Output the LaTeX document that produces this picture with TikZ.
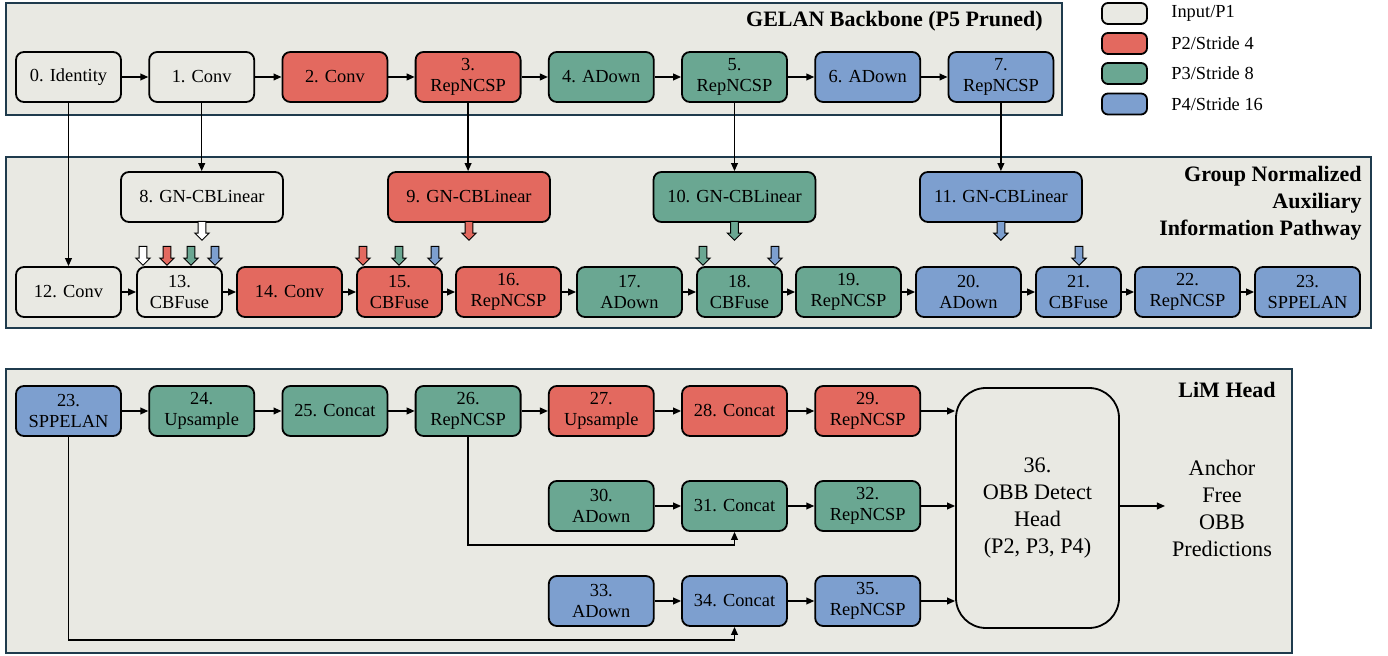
\documentclass[tikz,border=0pt]{standalone}
\usepackage{fontspec}
\setmainfont{Liberation Serif}
\usetikzlibrary{arrows.meta,shapes.arrows}
\definecolor{panelbg}{HTML}{E9E9E3}
\definecolor{panelline}{HTML}{1F3B4D}
\definecolor{pone}{HTML}{E9E9E3}
\definecolor{ptwo}{HTML}{E3695F}
\definecolor{pthree}{HTML}{6AA792}
\definecolor{pfour}{HTML}{7D9FCF}

\begin{document}
\begin{tikzpicture}[x=0.5pt,y=-0.5pt,
  panel/.style={draw=panelline,fill=panelbg,line width=1pt},
  blk/.style={draw,line width=0.9pt,rounded corners=4pt,minimum width=52.5pt,minimum height=25pt,inner sep=1pt,align=center,font=\fontsize{9.2}{10.5}\selectfont},
  wideblk/.style={blk,minimum width=81pt},
  thinblk/.style={blk,minimum width=42.5pt},
  con/.style={-{Triangle[length=4pt,width=3.4pt]},line width=0.7pt},
  fuse/.style={draw,line width=0.5pt,shape=single arrow,shape border rotate=270,minimum height=9.5pt,inner sep=1.7pt,single arrow head extend=1.6pt,anchor=tip},
  ttl/.style={font=\fontsize{11}{13.5}\selectfont\bfseries,align=right,anchor=east,inner sep=0pt},
  big/.style={font=\fontsize{11.1}{13.5}\selectfont,align=center},
  leg/.style={draw,line width=0.9pt,rounded corners=3pt,minimum width=22.5pt,minimum height=10.5pt,inner sep=0pt},
  legtxt/.style={anchor=west,inner sep=0pt,font=\fontsize{9.2}{10.5}\selectfont}]
\useasboundingbox (0,0) rectangle (1388,656);
\draw[panel] (6,3) rectangle (1062,115);
\draw[panel] (6,157) rectangle (1371,328);
\draw[panel] (6,369) rectangle (1292,653);
\node[ttl] (tback) at (1043,21) {GELAN Backbone (P5 Pruned)};
\node[ttl] (taux) at (1362,203) {Group Normalized\\Auxiliary\\Information Pathway};
\node[ttl] (thead) at (1276,390) {LiM Head};
\node[leg,fill=pone] (l1) at (1124.5,13.5) {};
\node[legtxt] at (1171,13.5) {Input/P1};
\node[leg,fill=ptwo] (l2) at (1124.5,43.5) {};
\node[legtxt] at (1171,43.5) {P2/Stride 4};
\node[leg,fill=pthree] (l3) at (1124.5,73.5) {};
\node[legtxt] at (1171,73.5) {P3/Stride 8};
\node[leg,fill=pfour] (l4) at (1124.5,104) {};
\node[legtxt] at (1171,104) {P4/Stride 16};
\node[blk,fill=pone] (b0) at (68.5,77) {0. Identity};
\node[blk,fill=pone] (b1) at (201.7,77) {1. Conv};
\node[blk,fill=ptwo] (b2) at (334.9,77) {2. Conv};
\node[blk,fill=ptwo] (b3) at (468.1,77) {3.\\RepNCSP};
\node[blk,fill=pthree] (b4) at (601.3,77) {4. ADown};
\node[blk,fill=pthree] (b5) at (734.5,77) {5.\\RepNCSP};
\node[blk,fill=pfour] (b6) at (867.7,77) {6. ADown};
\node[blk,fill=pfour] (b7) at (1000.9,77) {7.\\RepNCSP};
\draw[con] (b0) -- (b1);
\draw[con] (b1) -- (b2);
\draw[con] (b2) -- (b3);
\draw[con] (b3) -- (b4);
\draw[con] (b4) -- (b5);
\draw[con] (b5) -- (b6);
\draw[con] (b6) -- (b7);
\node[wideblk,fill=pone] (g8) at (202,197) {8. GN-CBLinear};
\node[wideblk,fill=ptwo] (g9) at (469,197) {9. GN-CBLinear};
\node[wideblk,fill=pthree] (g10) at (734.5,197) {10. GN-CBLinear};
\node[wideblk,fill=pfour] (g11) at (1000.9,197) {11. GN-CBLinear};
\node[blk,fill=pone] (a12) at (68.5,292) {12. Conv};
\node[thinblk,fill=pone] (a13) at (179.5,292) {13.\\CBFuse};
\node[blk,fill=ptwo] (a14) at (289.5,292) {14. Conv};
\node[thinblk,fill=ptwo] (a15) at (399.5,292) {15.\\CBFuse};
\node[blk,fill=ptwo] (a16) at (508.5,292) {16.\\RepNCSP};
\node[blk,fill=pthree] (a17) at (629.5,292) {17.\\ADown};
\node[thinblk,fill=pthree] (a18) at (739.5,292) {18.\\CBFuse};
\node[blk,fill=pthree] (a19) at (848.5,292) {19.\\RepNCSP};
\node[blk,fill=pfour] (a20) at (968.5,292) {20.\\ADown};
\node[thinblk,fill=pfour] (a21) at (1078.5,292) {21.\\CBFuse};
\node[blk,fill=pfour] (a22) at (1187.5,292) {22.\\RepNCSP};
\node[blk,fill=pfour] (a23) at (1307.5,292) {23.\\SPPELAN};
\draw[con] (b0) -- (b0 |- a12.north);
\draw[con] (b1) -- (b1 |- g8.north);
\draw[con] (b3) -- (b3 |- g9.north);
\draw[con] (b5) -- (b5 |- g10.north);
\draw[con] (b7) -- (b7 |- g11.north);
\draw[con] (a12) -- (a13);
\draw[con] (a13) -- (a14);
\draw[con] (a14) -- (a15);
\draw[con] (a15) -- (a16);
\draw[con] (a16) -- (a17);
\draw[con] (a17) -- (a18);
\draw[con] (a18) -- (a19);
\draw[con] (a19) -- (a20);
\draw[con] (a20) -- (a21);
\draw[con] (a21) -- (a22);
\draw[con] (a22) -- (a23);
\node[fuse,fill=white] (f8) at (202,241) {};
\node[fuse,fill=ptwo] (f9) at (469,241) {};
\node[fuse,fill=pthree] (f10) at (734.5,241) {};
\node[fuse,fill=pfour] (f11) at (1000.9,241) {};
\node[fuse,fill=white] (f13a) at (143,266) {};
\node[fuse,fill=ptwo] (f13b) at (167,266) {};
\node[fuse,fill=pthree] (f13c) at (191,266) {};
\node[fuse,fill=pfour] (f13d) at (215,266) {};
\node[fuse,fill=ptwo] (f15a) at (363,266) {};
\node[fuse,fill=pthree] (f15b) at (399,266) {};
\node[fuse,fill=pfour] (f15c) at (435,266) {};
\node[fuse,fill=pthree] (f18a) at (703,266) {};
\node[fuse,fill=pfour] (f18b) at (775,266) {};
\node[fuse,fill=pfour] (f21) at (1079,266) {};
\node[blk,fill=pfour] (h23) at (68.5,411) {23.\\SPPELAN};
\node[blk,fill=pthree] (h24) at (201.7,411) {24.\\Upsample};
\node[blk,fill=pthree] (h25) at (334.9,411) {25. Concat};
\node[blk,fill=pthree] (h26) at (468.1,411) {26.\\RepNCSP};
\node[blk,fill=ptwo] (h27) at (601.3,411) {27.\\Upsample};
\node[blk,fill=ptwo] (h28) at (734.5,411) {28. Concat};
\node[blk,fill=ptwo] (h29) at (867.7,411) {29.\\RepNCSP};
\node[blk,fill=pthree] (h30) at (601.3,506) {30.\\ADown};
\node[blk,fill=pthree] (h31) at (734.5,506) {31. Concat};
\node[blk,fill=pthree] (h32) at (867.7,506) {32.\\RepNCSP};
\node[blk,fill=pfour] (h33) at (601.3,601) {33.\\ADown};
\node[blk,fill=pfour] (h34) at (734.5,601) {34. Concat};
\node[blk,fill=pfour] (h35) at (867.7,601) {35.\\RepNCSP};
\node[draw,line width=0.9pt,rounded corners=15pt,minimum width=81.5pt,minimum height=120pt,big] (h36) at (1037.5,508) {36.\\OBB Detect\\Head\\(P2, P3, P4)};
\node[big] (pred) at (1222,508) {Anchor\\Free\\OBB\\Predictions};
\coordinate (t31) at (734.5,545);
\coordinate (t34) at (734.5,640);
\draw[con] (h23) -- (h24);
\draw[con] (h24) -- (h25);
\draw[con] (h25) -- (h26);
\draw[con] (h26) -- (h27);
\draw[con] (h27) -- (h28);
\draw[con] (h28) -- (h29);
\draw[con] (h30) -- (h31);
\draw[con] (h31) -- (h32);
\draw[con] (h33) -- (h34);
\draw[con] (h34) -- (h35);
\draw[con] (h29) -- (h29 -| h36.west);
\draw[con] (h32) -- (h32 -| h36.west);
\draw[con] (h35) -- (h35 -| h36.west);
\draw[con] (h26.south) |- (t31) -- (h31.south);
\draw[con] (h23.south) |- (t34) -- (h34.south);
\draw[con] (h36.east |- h32) -- (pred.west |- h32);
\end{tikzpicture}
\end{document}
